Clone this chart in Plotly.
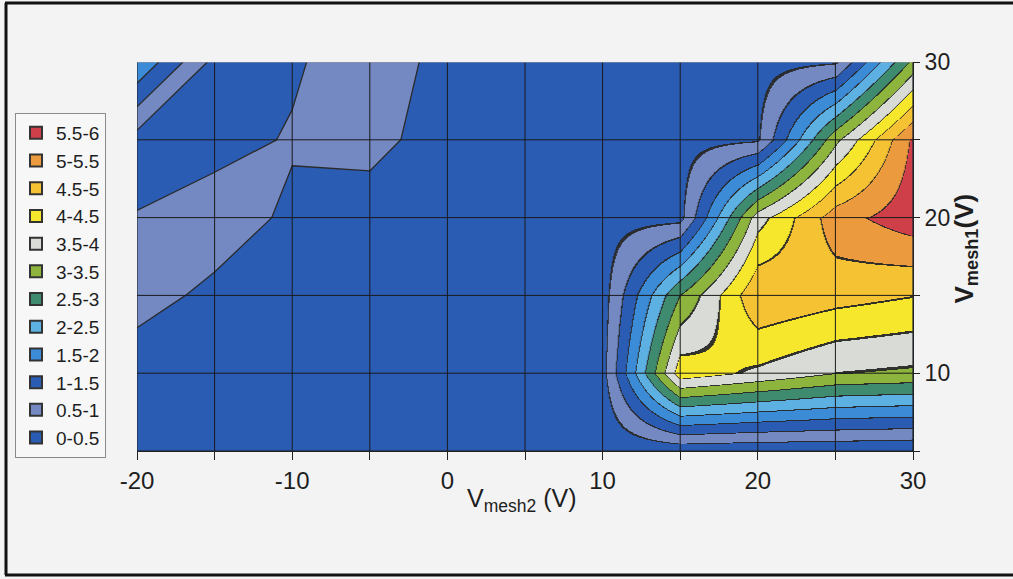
import plotly.graph_objects as go

# Grid of the surface: Vmesh2 along x, Vmesh1 along y
x_vals = [-20, -15, -10, -5, 0, 5, 10, 15, 20, 25, 30]
y_vals = [5, 10, 15, 20, 25, 30]

# Measured values, one list per Vmesh1 row (x from -20 to 30)
z_y05 = [0.30, 0.30, 0.30, 0.30, 0.30, 0.30, 0.10, 0.10, 0.05, 0.05, 0.00]
z_y10 = [0.22, 0.30, 0.30, 0.30, 0.30, 0.30, 0.35, 4.30, 3.90, 3.50, 3.40]
z_y15 = [0.70, 0.38, 0.30, 0.30, 0.30, 0.30, 0.30, 3.00, 4.95, 4.70, 4.52]
z_y20 = [0.52, 0.78, 0.40, 0.20, 0.30, 0.30, 0.30, 0.35, 3.80, 5.30, 5.80]
z_y25 = [0.30, 0.30, 0.55, 0.70, 0.20, 0.30, 0.30, 0.30, 0.45, 3.40, 5.60]
z_y30 = [1.95, 0.35, 0.42, 0.85, 0.30, 0.30, 0.30, 0.30, 0.30, 0.45, 3.15]

z_rows = [z_y05, z_y10, z_y15, z_y20, z_y25, z_y30]

# Contour bands (lowest first), 0.5 wide from 0 to 6
band_labels = ["0-0.5", "0.5-1", "1-1.5", "1.5-2", "2-2.5", "2.5-3",
               "3-3.5", "3.5-4", "4-4.5", "4.5-5", "5-5.5", "5.5-6"]
band_colors = ["#2b5cb3", "#7489c2", "#2b5cb3", "#3b8bd7", "#5db0e2", "#3f8b70",
               "#8db53d", "#d9dcd6", "#f6e62c", "#f4c232", "#eb9b3e", "#cf3f4a"]
Z_MIN, Z_MAX, STEP = 0.0, 6.0, 0.5

FONT = "Liberation Sans, Arial, sans-serif"
INK = "#1e1e1e"
EDGE_COLOR = "#2a2a2a"

# The flat low-voltage side (Vmesh2 <= 10) and the peak side (Vmesh2 >= 10)
SPLIT = x_vals.index(10)
x_low = x_vals[:SPLIT + 1]
z_low = [row[:SPLIT + 1] for row in z_rows]
x_high = x_vals[SPLIT:]
z_high = [row[SPLIT:] for row in z_rows]


def frac(v):
    return (v - Z_MIN) / (Z_MAX - Z_MIN)


# Stepped colour scale: one flat colour per band
fill_scale = []
for i, c in enumerate(band_colors):
    fill_scale.append([frac(i * STEP), c])
    fill_scale.append([frac((i + 1) * STEP), c])

# Narrow dark bands at every level give the contour outlines on the peak side
CLEAR = "rgba(0,0,0,0)"
EDGE = "rgba(40,40,40,0.95)"
level_eps = {0.5: 0.024, 1.0: 0.024, 1.5: 0.024, 2.0: 0.024, 2.5: 0.024, 3.0: 0.024,
             3.5: 0.022, 4.0: 0.018, 4.5: 0.014, 5.0: 0.011, 5.5: 0.008}
line_scale = [[0.0, CLEAR]]
for lvl, eps in level_eps.items():
    line_scale += [[frac(lvl - eps), CLEAR], [frac(lvl - eps), EDGE],
                   [frac(lvl + eps), EDGE], [frac(lvl + eps), CLEAR]]
line_scale.append([1.0, CLEAR])

fig = go.Figure()

# Peak side: smoothly interpolated surface, banded by the stepped scale
fig.add_trace(go.Heatmap(
    x=x_high, y=y_vals, z=z_high, zsmooth="best",
    zmin=Z_MIN, zmax=Z_MAX, colorscale=fill_scale,
    showscale=False, hoverinfo="skip", showlegend=False,
))
fig.add_trace(go.Heatmap(
    x=x_high, y=y_vals, z=z_high, zsmooth="best",
    zmin=Z_MIN, zmax=Z_MAX, colorscale=line_scale,
    showscale=False, hoverinfo="skip", showlegend=False,
))

# Low side: filled contours with outlines
fig.add_trace(go.Contour(
    x=x_low, y=y_vals, z=z_low,
    autocontour=False,
    contours=dict(start=0.5, end=5.5, size=STEP, coloring="fill", showlines=True),
    line=dict(color=EDGE_COLOR, width=1.3, smoothing=0),
    colorscale=[[i / 11, c] for i, c in enumerate(band_colors)],
    showscale=False, hoverinfo="skip", showlegend=False,
))

# Legend entries, highest band on top
for label, color in reversed(list(zip(band_labels, band_colors))):
    fig.add_trace(go.Scatter(
        x=[None], y=[None], mode="markers", name=label,
        marker=dict(symbol="square", size=11, color=color,
                    line=dict(color="#333333", width=1)),
    ))

# Grid lines drawn over the filled surface
shapes = []
for xv in x_vals:
    shapes.append(dict(type="line", xref="x", yref="y", x0=xv, x1=xv,
                       y0=y_vals[0], y1=y_vals[-1], layer="above",
                       line=dict(color="#1a1a1a", width=1)))
for yv in y_vals:
    col = "#9a9a9a" if yv == y_vals[-1] else "#1a1a1a"
    shapes.append(dict(type="line", xref="x", yref="y", x0=x_vals[0], x1=x_vals[-1],
                       y0=yv, y1=yv, layer="above",
                       line=dict(color=col, width=1)))

# Page frame around the chart
W, H = 1013, 579
L, R, T, B = 137, 100, 62, 128
pw, ph = W - L - R, H - T - B


def px(xp):
    return (xp - L) / pw


def py(yp):
    return (H - B - yp) / ph


frame = dict(color="#111111", width=3)
shapes += [
    dict(type="line", xref="paper", yref="paper", x0=px(5), x1=px(1013), y0=py(3), y1=py(3), line=frame),
    dict(type="line", xref="paper", yref="paper", x0=px(6), x1=px(6), y0=py(3), y1=py(575), line=frame),
    dict(type="line", xref="paper", yref="paper", x0=px(5), x1=px(1013), y0=py(575), y1=py(575), line=frame),
]

x_tick_vals = [-20, -10, 0, 10, 20, 30]
x_tick_text = ["-20", "-10", "0", "10", "20", "30"]
y_tick_vals = [10, 20, 30]
y_tick_text = ["10", "20", "30"]

fig.update_layout(
    width=W, height=H,
    margin=dict(l=L, r=R, t=T, b=B, pad=0),
    paper_bgcolor="#f3f3f3",
    plot_bgcolor="#2b5cb3",
    font=dict(family=FONT, color=INK),
    shapes=shapes,
    showlegend=True,
    legend=dict(
        x=px(15), y=py(113), xanchor="left", yanchor="top",
        bgcolor="#f7f7f7", bordercolor="#8a8a8a", borderwidth=1,
        font=dict(family=FONT, size=19, color=INK),
        itemsizing="constant", traceorder="normal",
    ),
    xaxis=dict(
        range=[x_vals[0], x_vals[-1]],
        tickmode="array", tickvals=x_tick_vals, ticktext=x_tick_text,
        showgrid=False, zeroline=False,
        ticks="outside", ticklen=8, tickcolor="#222222",
        minor=dict(dtick=5, tick0=0, ticks="outside", ticklen=8, tickcolor="#222222", showgrid=False),
        showline=True, linecolor="#222222", linewidth=1,
        tickfont=dict(family=FONT, size=24, color=INK),
    ),
    yaxis=dict(
        range=[y_vals[0], y_vals[-1]], side="right",
        tickmode="array", tickvals=y_tick_vals, ticktext=y_tick_text,
        showgrid=False, zeroline=False,
        ticks="outside", ticklen=6, tickcolor="#222222",
        minor=dict(dtick=5, tick0=0, ticks="outside", ticklen=6, tickcolor="#222222", showgrid=False),
        showline=True, linecolor="#222222", linewidth=1,
        tickfont=dict(family=FONT, size=23, color=INK),
    ),
    annotations=[
        dict(text="V<sub>mesh2</sub> (V)", xref="paper", yref="paper",
             x=px(522), y=py(518), showarrow=False,
             font=dict(family=FONT, size=25, color=INK)),
        dict(text="<b>V<sub>mesh1</sub>(V)</b>", xref="paper", yref="paper",
             x=px(984), y=py(248), showarrow=False, textangle=-90,
             font=dict(family=FONT, size=26, color=INK)),
    ],
)

fig.write_html("out.html")
